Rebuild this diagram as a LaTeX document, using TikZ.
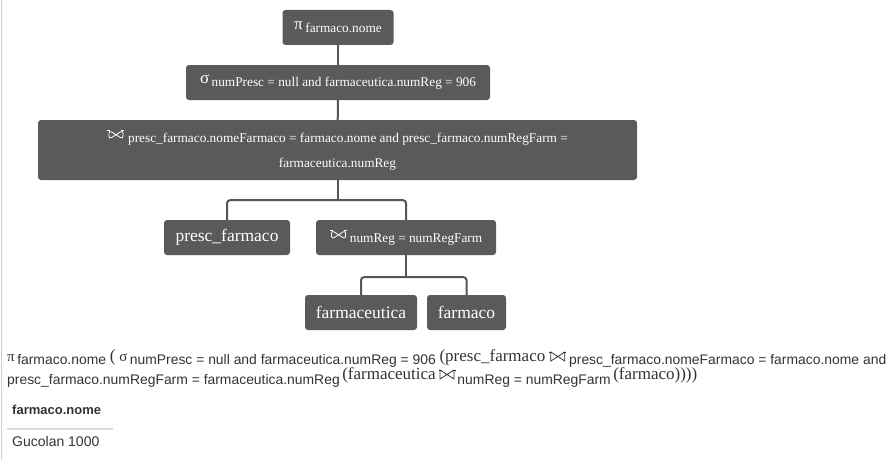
\documentclass[tikz,border=0pt]{standalone}
\usepackage{fontspec}
\setmainfont{Liberation Serif}
\setsansfont{Liberation Sans}
\usetikzlibrary{calc,positioning}
\definecolor{boxgray}{HTML}{5A5A5A}
\definecolor{linegray}{HTML}{555555}
\definecolor{txtgray}{HTML}{333333}
\definecolor{rulegray}{HTML}{DDDDDD}
\definecolor{edgegray}{HTML}{D0D0D0}
\newcommand\opsym[1]{{\fontsize{17}{17}\selectfont #1}}
\newcommand\opsub[1]{\raisebox{-3pt}{\fontsize{13.3}{13.3}\selectfont #1}}
\newcommand\joinsym[1]{\tikz[x=1pt,y=1pt,baseline=0pt]{\draw[#1, line width=0.8pt, line join=miter] (0,0) -- (0,9) -- (14,0) -- (14,9) -- cycle;
  \draw[#1, line width=0.6pt] (-1.5,9) -- (1.5,9) (12.5,9) -- (15.5,9);}}
\newcommand\exsub[2]{\raisebox{-#1}{\sffamily\fontsize{13.9}{13.9}\selectfont #2}}
\newcommand\exrel[1]{{\fontsize{17}{17}\selectfont #1}}
\tikzset{
  opbox/.style={fill=boxgray, text=white, rounded corners=3pt, minimum height=35pt, inner sep=0pt},
  relbox/.style={opbox, font=\fontsize{17.5}{17.5}\selectfont},
  conn/.style={draw=linegray, line width=2pt, rounded corners=3pt},
}

\begin{document}
\begin{tikzpicture}[x=1pt,y=-1pt]
			%%%%% START %%%%%
			\useasboundingbox (0,0) rectangle (893,460);
			\draw[edgegray, line width=1pt] (1,0) -- (1,460);
			
			% tree
			\node[opbox, minimum width=111pt] (proj) at (338,27.5) {\opsym{π}\ \opsub{farmaco.nome}};
			\node[opbox, minimum width=304pt] (sel) at (338,82.5) {\opsym{σ}\ \opsub{numPresc = null and farmaceutica.numReg = 906}};
			\node[opbox, minimum width=599pt, minimum height=60pt, align=center, font=\fontsize{13.3}{25}\selectfont] (join) at (337.5,150)
				{\joinsym{white}\ \raisebox{-3pt}{presc\_farmaco.nomeFarmaco = farmaco.nome and presc\_farmaco.numRegFarm =}\\\raisebox{-3pt}{farmaceutica.numReg}};
			\node[relbox, minimum width=126pt] (presc) at (227,237.5) {presc\_farmaco};
			\node[opbox, minimum width=180pt] (joinb) at (406,237.5) {\joinsym{white}\ \opsub{numReg = numRegFarm}};
			\node[relbox, minimum width=112pt] (farmaceutica) at (361,312.5) {farmaceutica};
			\node[relbox, minimum width=79pt] (farmaco) at (466.5,312.5) {farmaco};
			
			\draw[conn] (proj) -- (sel);
			\draw[conn] (sel) -- (join);
			\coordinate (splitA) at ($(join.south)+(0,20)$);
			\coordinate (splitB) at ($(joinb.south)+(0,22)$);
			\draw[conn] (join.south) -- (splitA);
			\draw[conn] (presc.north) |- (splitA) -| (joinb.north);
			\draw[conn] (joinb.south) -- (splitB);
			\draw[conn] (farmaceutica.north) |- (splitB) -| (farmaco.north);
			
			% expression
			\node[anchor=base west, inner sep=0pt, text=txtgray] (exprA) at (7,361)
				{\fontsize{15}{15}\selectfont π\,\exsub{3pt}{farmaco.nome} \exrel{(} σ\,\exsub{3pt}{numPresc = null and farmaceutica.numReg = 906} \exrel{(presc\_farmaco} \joinsym{txtgray}\,\exsub{3pt}{presc\_farmaco.nomeFarmaco = farmaco.nome and}};
			\node[anchor=base west, inner sep=0pt, text=txtgray] (exprB) at (7,379)
				{\exsub{5pt}{presc\_farmaco.numRegFarm = farmaceutica.numReg} \exrel{(farmaceutica} \joinsym{txtgray}\,\exsub{5pt}{numReg = numRegFarm} \exrel{(farmaco))))}};
			
			% result
			\node[anchor=base west, inner sep=0pt, text=txtgray, font=\sffamily\bfseries\fontsize{13}{13}\selectfont] (colhead) at (12,414) {farmaco.nome};
			\draw[rulegray, line width=2pt] (7,429) -- (113,429);
			\node[anchor=base west, inner sep=0pt, text=txtgray, font=\sffamily\fontsize{14}{14}\selectfont] (row) at (12,446) {Gucolan 1000};
			%%%%% END %%%%%
\end{tikzpicture}
\end{document}
